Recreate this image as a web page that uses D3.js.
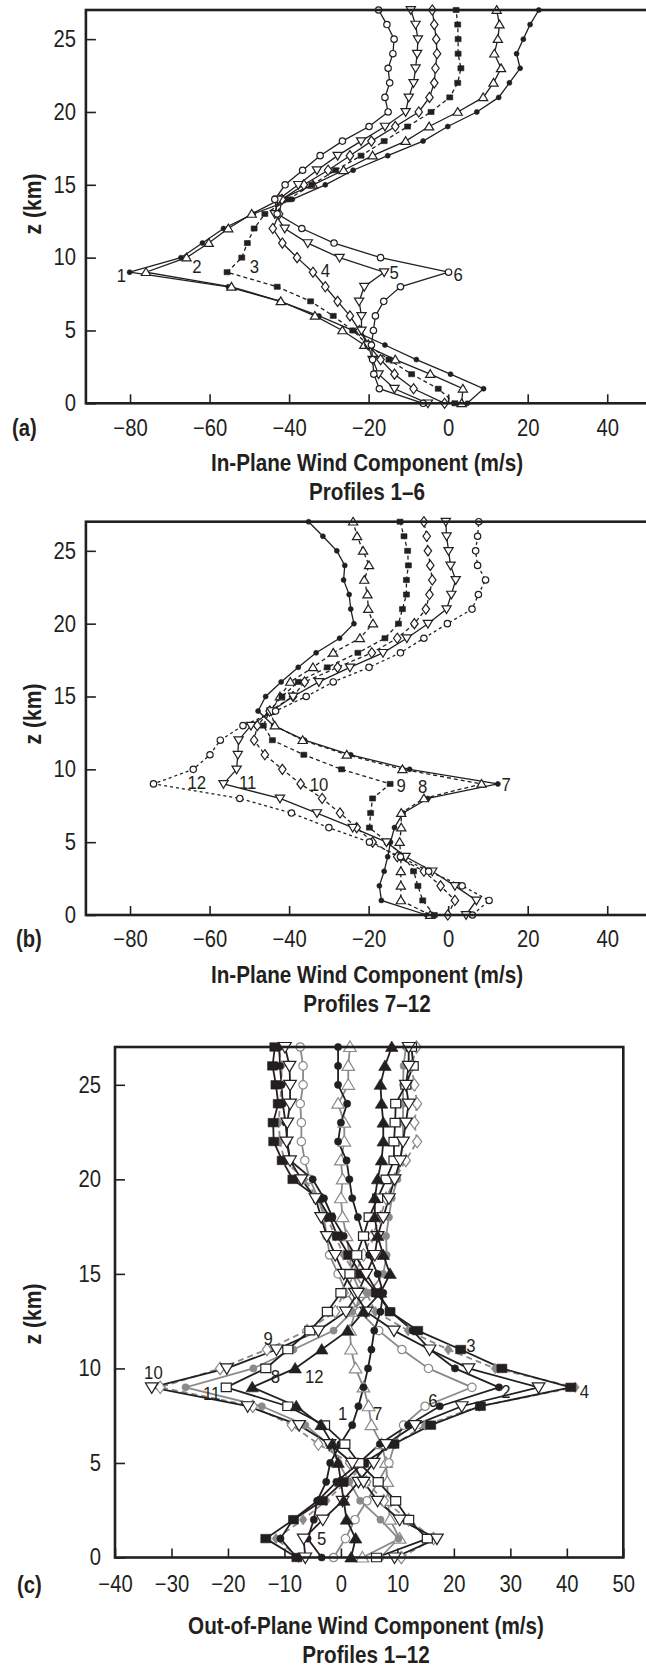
<!DOCTYPE html>
<html>
<head>
<meta charset="utf-8">
<script src="https://cdn.jsdelivr.net/npm/d3@7"></script>
<style>
  body { margin: 0; background: #fff; }
  svg { display: block; }
</style>
</head>
<body>
<svg width="646" height="1668"></svg>
<script>
// heights of the profile levels (km)
const zLevels = [0, 1, 2, 3, 4, 5, 6, 7, 8, 9, 10, 11, 12, 13, 14, 15, 16, 17, 18, 19, 20, 21, 22, 23, 24, 25, 26, 27];
const zTicks = [0, 5, 10, 15, 20, 25];
const inPlaneTicks = [-80, -60, -40, -20, 0, 20, 40];
const outPlaneTicks = [-40, -30, -20, -10, 0, 10, 20, 30, 40, 50];

// in-plane wind component (m/s), z = 0..27 km
const inPlane1 = [4.8, 8.9, 0.6, -8.0, -15.9, -24.0, -32.5, -42.3, -55.3, -80.1, -67.2, -61.8, -56.5, -49.0, -39.2, -30.9, -23.9, -15.2, -6.3, -0.1, 7.2, 12.7, 15.4, 18.1, 17.2, 18.9, 20.6, 22.8];
const inPlane2 = [3.4, 3.7, -4.5, -13.3, -21.1, -26.6, -33.5, -42.1, -54.5, -76.0, -65.8, -60.2, -55.3, -49.4, -42.3, -34.0, -26.3, -19.0, -10.7, -4.8, 2.4, 8.8, 11.4, 13.3, 11.6, 12.5, 12.9, 12.2];
const inPlane3 = [1.7, -2.5, -9.2, -14.9, -20.1, -24.0, -28.9, -34.6, -43.0, -55.6, -51.9, -50.5, -48.8, -46.1, -40.2, -34.3, -28.3, -21.9, -16.1, -10.2, -4.3, 0.4, 2.4, 3.2, 2.5, 2.5, 2.4, 2.0];
const inPlane4 = [-0.9, -8.7, -13.5, -17.0, -20.1, -22.3, -24.7, -27.8, -30.9, -34.0, -38.0, -41.7, -44.1, -42.5, -41.8, -36.3, -30.2, -24.7, -19.3, -13.3, -7.4, -4.7, -3.5, -3.2, -2.8, -3.0, -3.5, -4.0];
const inPlane5 = [-5.1, -13.5, -17.5, -19.0, -20.1, -21.8, -21.8, -22.4, -21.1, -16.1, -27.3, -35.3, -41.1, -43.6, -42.7, -37.7, -33.0, -27.8, -21.9, -15.9, -10.7, -9.9, -8.7, -8.2, -7.8, -7.6, -8.2, -9.4];
const inPlane6 = [-6.3, -17.3, -18.7, -19.0, -19.3, -18.8, -18.3, -16.2, -12.0, 0.1, -17.0, -28.7, -36.8, -43.0, -43.6, -41.0, -36.6, -32.2, -26.6, -19.9, -15.1, -15.9, -14.7, -15.1, -13.9, -13.6, -15.4, -17.5];
const inPlane7 = [-5.4, -16.8, -17.3, -16.1, -15.2, -14.5, -13.5, -11.3, -5.1, 12.5, -9.7, -24.5, -36.1, -43.9, -47.8, -45.9, -42.0, -37.7, -33.2, -27.3, -23.7, -24.5, -24.9, -26.3, -26.0, -28.0, -31.5, -35.1];
const inPlane8 = [-4.5, -11.9, -11.9, -11.9, -11.9, -12.2, -11.8, -11.8, -6.1, 8.4, -11.5, -25.5, -36.6, -43.6, -44.7, -42.3, -39.7, -34.0, -28.9, -22.2, -18.9, -20.1, -20.3, -21.1, -19.9, -21.4, -22.9, -23.9];
const inPlane9 = [-3.5, -6.4, -7.6, -8.7, -11.0, -15.3, -19.8, -19.5, -19.0, -14.6, -26.8, -36.3, -44.2, -46.5, -44.9, -41.8, -37.7, -30.4, -22.7, -15.9, -12.5, -11.5, -10.5, -10.5, -10.0, -10.2, -11.1, -12.1];
const inPlane10 = [-0.1, 1.7, -1.9, -6.1, -12.8, -19.0, -23.0, -27.2, -31.7, -37.1, -41.7, -46.1, -48.8, -48.0, -44.9, -39.0, -36.1, -27.8, -19.2, -12.8, -8.5, -5.6, -4.7, -4.0, -4.5, -5.1, -5.4, -6.1];
const inPlane11 = [4.5, 7.1, 1.7, -4.0, -10.7, -15.5, -24.0, -33.0, -42.3, -56.5, -53.2, -52.9, -52.7, -49.6, -44.4, -39.0, -32.5, -24.7, -16.4, -10.4, -5.1, -0.4, 0.8, 1.9, 0.6, 0.1, -0.4, -0.6];
const inPlane12 = [6.1, 10.3, 3.5, -4.9, -12.0, -19.8, -30.0, -39.4, -52.4, -74.1, -64.1, -59.9, -57.3, -51.6, -43.4, -35.7, -28.9, -19.9, -12.0, -6.1, -0.2, 6.0, 7.6, 9.4, 7.4, 6.9, 7.4, 7.7];

// out-of-plane wind component (m/s), z = 0..27 km
const outPlane1 = [-3.4, -5.9, -4.8, -4.2, -2.6, -1.9, -0.1, 2.0, 3.1, 4.0, 4.8, 5.4, 5.9, 7.0, 7.5, 6.5, 5.0, 4.0, 3.0, 2.0, 1.5, 1.0, -0.5, 0.0, 1.1, -0.5, -0.5, -0.5];
const outPlane2 = [-7.8, -10.7, -8.5, -4.1, -0.8, 3.2, 6.9, 11.9, 17.5, 28.0, 20.2, 15.8, 12.7, 8.8, 6.5, 4.5, 2.5, 0.5, -1.5, -3.0, -5.0, -9.0, -9.5, -9.8, -10.3, -10.5, -10.8, -10.9];
const outPlane3 = [-7.8, -13.3, -8.4, -3.3, 0.4, 4.0, 9.4, 15.9, 24.7, 40.7, 28.5, 21.2, 13.6, 8.7, 6.3, 3.5, 1.4, -0.6, -2.0, -4.0, -8.5, -10.4, -11.9, -12.0, -11.1, -11.5, -12.1, -11.7];
const outPlane4 = [-7.5, -11.5, -6.7, -2.6, 1.0, 4.5, 9.5, 14.9, 24.5, 41.5, 27.3, 19.0, 11.9, 6.1, 4.5, 2.5, 0.5, -1.0, -2.5, -4.0, -6.5, -10.0, -10.8, -11.0, -10.8, -10.5, -10.5, -11.1];
const outPlane5 = [-6.3, -6.6, -3.2, 0.3, 3.1, 5.8, 8.0, 13.1, 21.4, 35.0, 22.6, 15.7, 9.4, 4.5, 2.5, 0.5, -1.0, -2.5, -3.5, -4.5, -7.0, -9.0, -9.6, -9.5, -9.0, -9.0, -9.1, -9.9];
const outPlane6 = [-1.3, 0.8, 2.5, 4.6, 6.6, 8.5, 9.5, 11.1, 14.9, 23.2, 15.5, 10.8, 6.7, 3.3, 1.0, -0.5, -2.0, -2.5, -3.0, -4.0, -5.5, -6.4, -7.0, -7.0, -7.2, -6.7, -6.7, -7.2];
const outPlane7 = [3.8, 10.4, 8.7, 8.3, 8.2, 8.0, 7.2, 5.4, 4.9, 4.0, 2.6, 1.8, 1.6, 2.5, 3.5, 2.0, 1.5, 1.0, 0.3, 0.0, 0.3, 0.0, 0.6, 0.6, -0.5, 1.3, 1.3, 1.6];
const outPlane8 = [6.3, 15.3, 12.0, 9.7, 6.6, 3.2, 0.7, -2.9, -9.4, -20.3, -13.3, -9.4, -5.5, -2.4, 0.0, 1.6, 2.8, 4.0, 5.0, 6.5, 8.0, 9.4, 9.4, 9.6, 9.7, 11.5, 12.8, 12.5];
const outPlane9 = [10.7, 16.4, 12.0, 7.6, 4.5, 1.6, -4.0, -8.7, -15.6, -32.0, -21.4, -13.1, -6.0, -1.0, 0.5, 2.5, 4.0, 5.5, 7.0, 8.0, 9.5, 11.5, 13.5, 13.0, 13.5, 13.0, 12.5, 13.4];
const outPlane10 = [9.5, 17.0, 10.4, 6.5, 4.0, 2.0, -2.0, -7.4, -16.5, -33.5, -20.2, -11.4, -4.0, 0.9, 3.0, 4.5, 6.0, 6.5, 7.5, 8.5, 9.5, 10.5, 11.0, 11.5, 12.0, 11.5, 12.0, 12.0];
const outPlane11 = [7.0, 10.2, 7.0, 3.4, 1.5, -0.4, -2.2, -6.3, -14.0, -27.5, -15.5, -8.4, -1.3, 2.0, 5.0, 7.5, 8.1, 8.0, 8.5, 9.0, 10.0, 10.5, 11.0, 11.0, 11.0, 11.0, 11.1, 11.5];
const outPlane12 = [1.8, 2.6, 1.0, 0.5, 0.0, -0.5, -1.5, -3.5, -7.9, -15.7, -8.1, -3.4, 1.2, 4.0, 7.0, 8.7, 7.5, 6.5, 6.0, 6.0, 6.5, 7.2, 7.5, 7.5, 7.2, 7.0, 7.8, 9.0];

// profile number labels: [profile, wind, z]
const labelsA = [[1, -82.2, 8.8], [2, -63.2, 9.4], [3, -48.7, 9.4], [4, -30.9, 9.1], [5, -13.6, 9.0], [6, 2.5, 8.85]];
const labelsB = [[7, 14.6, 9.0], [8, -6.4, 8.8], [9, -11.8, 8.9], [10, -32.5, 9.0], [11, -50.4, 9.1], [12, -63.2, 9.1]];
const labelsC = [[1, 0.3, 7.6], [2, 29.2, 8.8], [3, 23.0, 11.2], [4, 43.1, 8.8], [5, -3.4, 1.0], [6, 16.3, 8.3],
                 [7, 6.5, 7.6], [8, -11.6, 9.6], [9, -12.9, 11.6], [10, -33.2, 9.8], [11, -22.9, 8.7], [12, -4.7, 9.6]];

const BLACK = '#231f20';
const GRAY = '#8a8a8a';
const FONT = "'Liberation Sans', Arimo, Arial, sans-serif";
const SQUEEZE = 0.88;   // horizontal squeeze to get a condensed face

const svg = d3.select('svg');

// marker shapes, size = half size in px
const shapes = {
    circle: { draw(c, s) { c.moveTo(s, 0); c.arc(0, 0, s, 0, 2 * Math.PI); } },
    square: { draw(c, s) { c.rect(-s, -s * 0.85, 2 * s, 1.7 * s); } },
    triUp: { draw(c, s) { c.moveTo(0, -s); c.lineTo(s * 1.05, s * 0.75); c.lineTo(-s * 1.05, s * 0.75); c.closePath(); } },
    triDown: { draw(c, s) { c.moveTo(0, s); c.lineTo(s * 1.05, -s * 0.75); c.lineTo(-s * 1.05, -s * 0.75); c.closePath(); } },
    diamond: { draw(c, s) { c.moveTo(0, -s * 1.15); c.lineTo(s * 0.85, 0); c.lineTo(0, s * 1.15); c.lineTo(-s * 0.85, 0); c.closePath(); } }
};

// condensed text placed at (x, y)
function label(parent, x, y, txt, opts) {
    return parent.append('text')
        .attr('transform', `translate(${x},${y}) ${opts.rotate ? 'rotate(-90) ' : ''}scale(${SQUEEZE},1)`)
        .attr('text-anchor', opts.anchor || 'middle')
        .attr('dy', opts.dy || null)
        .attr('font-family', FONT)
        .attr('font-weight', opts.bold ? 'bold' : 'normal')
        .attr('font-size', opts.size)
        .attr('fill', BLACK)
        .text(txt);
}

function drawPanel(cfg) {
    const x = d3.scaleLinear().domain(cfg.xDomain).range([cfg.left, cfg.right]);
    const y = d3.scaleLinear().domain([0, 27]).range([cfg.bottom, cfg.top]);
    const g = svg.append('g');

    const xAxis = g.append('g')
        .attr('transform', `translate(0,${cfg.bottom})`)
        .call(d3.axisBottom(x).tickValues(cfg.xTicks).tickSize(-9).tickPadding(cfg.xPad));
    const yAxis = g.append('g')
        .attr('transform', `translate(${cfg.left},0)`)
        .call(d3.axisLeft(y).tickValues(zTicks).tickSize(-10).tickPadding(cfg.yPad / SQUEEZE));
    [xAxis, yAxis].forEach(a => {
        a.select('.domain').remove();
        a.selectAll('line').attr('stroke', BLACK).attr('stroke-width', 1.6);
        a.selectAll('text')
            .attr('font-family', FONT).attr('font-size', 23).attr('fill', BLACK)
            .attr('transform', `scale(${SQUEEZE},1)`);
    });

    const line = d3.line().x(d => x(d.v)).y(d => y(d.z));
    const series = cfg.profiles.map(p => ({
        style: p,
        points: zLevels.map((z, i) => ({ z: z, v: p.values[i] }))
    }));

    series.forEach(s => {
        g.append('path')
            .datum(s.points)
            .attr('d', line)
            .attr('fill', 'none')
            .attr('stroke', s.style.color)
            .attr('stroke-width', cfg.lineWidth)
            .attr('stroke-dasharray', s.style.dash || null);
    });
    series.forEach(s => {
        const sym = d3.symbol().type(shapes[s.style.marker]).size(s.style.size);
        g.append('g').selectAll('path')
            .data(s.points)
            .enter()
            .append('path')
            .attr('transform', d => `translate(${x(d.v)},${y(d.z)})`)
            .attr('d', sym)
            .attr('fill', s.style.filled ? s.style.color : '#fff')
            .attr('stroke', s.style.color)
            .attr('stroke-width', s.style.filled ? 0.6 : 1.2);
    });

    // profile numbers
    cfg.labels.forEach(d => {
        label(g, x(d[1]), y(d[2]), d[0], { size: 19, dy: '0.35em' });
    });

    // frame
    g.append('rect')
        .attr('x', cfg.left)
        .attr('y', cfg.top)
        .attr('width', cfg.frameRight - cfg.left)
        .attr('height', cfg.bottom - cfg.top)
        .attr('fill', 'none')
        .attr('stroke', BLACK)
        .attr('stroke-width', 2.6);

    // titles
    label(g, cfg.titleX, cfg.titleY, cfg.title, { size: 23.5, bold: true });
    label(g, cfg.titleX, cfg.titleY + 28.5, cfg.subtitle, { size: 23.5, bold: true });
    label(g, 33, cfg.yLabelY, 'z (km)', { size: 24, bold: true, rotate: true, dy: '0.35em' });
    label(g, cfg.letterX, cfg.bottom + cfg.letterDy, cfg.letter, { size: 23, bold: true, anchor: 'start', dy: '0.35em' });
}

function small(values, marker, filled, dash) {
    const sizes = { circle: filled ? 2.5 : 3.2, square: 3, triUp: 4.4, triDown: 4.4, diamond: 4.4 };
    return { values: values, marker: marker, filled: filled, dash: dash, color: BLACK, size: sizes[marker] };
}
function big(values, marker, filled, color, dash) {
    const sizes = { circle: filled ? 3.6 : 4.2, square: 5, triUp: 6, triDown: 6, diamond: filled ? 4.6 : 5.4 };
    return { values: values, marker: marker, filled: filled, dash: dash, color: color, size: sizes[marker] };
}

drawPanel({
    xDomain: [-91.1, 50], xTicks: inPlaneTicks,
    left: 85.9, right: 647, frameRight: 649, top: 10, bottom: 403.3,
    xPad: 16, yPad: 10, lineWidth: 1.3,
    profiles: [
        small(inPlane1, 'circle', true, null),
        small(inPlane2, 'triUp', false, null),
        small(inPlane3, 'square', true, '4,3'),
        small(inPlane4, 'diamond', false, null),
        small(inPlane5, 'triDown', false, null),
        small(inPlane6, 'circle', false, null)
    ],
    labels: labelsA,
    title: 'In-Plane Wind Component (m/s)', subtitle: 'Profiles 1–6',
    titleX: 367, titleY: 471, yLabelY: 204, letter: '(a)', letterX: 12, letterDy: 25
});

drawPanel({
    xDomain: [-91.1, 50], xTicks: inPlaneTicks,
    left: 85.9, right: 647, frameRight: 649, top: 521.7, bottom: 915,
    xPad: 16, yPad: 10, lineWidth: 1.3,
    profiles: [
        small(inPlane7, 'circle', true, null),
        small(inPlane8, 'triUp', false, '4,3'),
        small(inPlane9, 'square', true, '4,3'),
        small(inPlane10, 'diamond', false, '4,3'),
        small(inPlane11, 'triDown', false, null),
        small(inPlane12, 'circle', false, '3,3')
    ],
    labels: labelsB,
    title: 'In-Plane Wind Component (m/s)', subtitle: 'Profiles 7–12',
    titleX: 367, titleY: 983, yLabelY: 714, letter: '(b)', letterX: 16, letterDy: 24
});

drawPanel({
    xDomain: [-40, 50], xTicks: outPlaneTicks,
    left: 115, right: 623.3, frameRight: 623.3, top: 1047, bottom: 1557.5,
    xPad: 18, yPad: 14, lineWidth: 1.8,
    profiles: [
        big(outPlane7, 'triUp', false, GRAY, null),
        big(outPlane6, 'circle', false, GRAY, null),
        big(outPlane11, 'circle', true, GRAY, null),
        big(outPlane4, 'diamond', true, GRAY, '6,4'),
        big(outPlane9, 'diamond', false, GRAY, '6,4'),
        big(outPlane1, 'circle', true, BLACK, null),
        big(outPlane2, 'circle', true, BLACK, null),
        big(outPlane3, 'square', true, BLACK, null),
        big(outPlane5, 'triDown', false, BLACK, null),
        big(outPlane8, 'square', false, BLACK, null),
        big(outPlane10, 'triDown', false, BLACK, null),
        big(outPlane12, 'triUp', true, BLACK, null)
    ],
    labels: labelsC,
    title: 'Out-of-Plane Wind Component (m/s)', subtitle: 'Profiles 1–12',
    titleX: 366, titleY: 1634, yLabelY: 1314, letter: '(c)', letterX: 17, letterDy: 27
});
</script>
</body>
</html>
